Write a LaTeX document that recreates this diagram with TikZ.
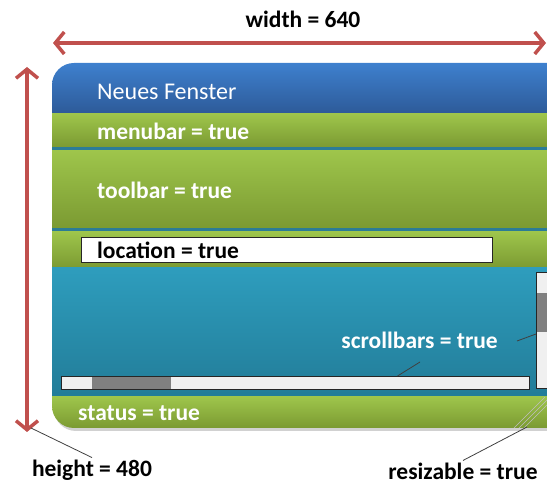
\documentclass[tikz,border=0pt]{standalone}
\usepackage{fontspec}
\setmainfont{Carlito}
\usetikzlibrary{arrows.meta,positioning}
\definecolor{dimred}{HTML}{C0504D}
\definecolor{titletop}{HTML}{3E80CE}
\definecolor{titlebot}{HTML}{2D5A98}
\definecolor{bartop}{HTML}{9EC54B}
\definecolor{barbot}{HTML}{7B9A32}
\definecolor{paneltop}{HTML}{2E9DBD}
\definecolor{panelbot}{HTML}{227C98}
\definecolor{septeal}{HTML}{2B7C96}
\definecolor{trackgray}{HTML}{F0F0F0}
\definecolor{thumbgray}{HTML}{808080}
\begin{document}
\begin{tikzpicture}
[x=1pt,y=-1pt,
  greenbar/.style={top color=bartop,bottom color=barbot},%
  optlabel/.style={anchor=west,text=white,inner sep=0pt,font=\fontsize{23.5}{27}\selectfont\bfseries},%
  dimlabel/.style={text=black,inner sep=2pt,font=\fontsize{23.5}{27}\selectfont\bfseries},%
  dimarrow/.style={draw=dimred,line width=3.5pt,{Straight Barb[length=9pt,width=22pt]}-{Straight Barb[length=9pt,width=22pt]}},%
  track/.style={draw=black!85,line width=1pt,fill=trackgray,inner sep=0pt,anchor=north west},%
  thumb/.style={fill=thumbgray,inner sep=0pt,anchor=north west},%
  pointer/.style={draw=black!75,line width=0.8pt}]
\useasboundingbox (0,0) rectangle (547,486);
%% window frame with shadow
\fill[black!18,rounded corners=22pt] (54,66) rectangle (590,431);
\begin{scope}
\clip[rounded corners=22pt] (52,63) rectangle (590,428);
\shade[top color=titletop,bottom color=titlebot] (52,63) rectangle (590,114);
\shade[greenbar] (52,114) rectangle (590,147);
\fill[septeal] (52,147) rectangle (590,151);
\shade[greenbar] (52,151) rectangle (590,228);
\fill[septeal] (52,228) rectangle (590,232);
\shade[greenbar] (52,232) rectangle (590,268);
\shade[top color=paneltop,bottom color=panelbot] (52,268) rectangle (590,397);
\shade[greenbar] (52,397) rectangle (590,428);
%% resize grip
\foreach \d in {0,5,10}
  \draw[black!25,line width=0.6pt] (514+\d,428) -- (545+\d,397);
\end{scope}
%% bar labels
\node (title) [optlabel,font=\fontsize{24}{27}\selectfont] at (97,92) {Neues Fenster};
\node (menubar) [optlabel] at (97,131) {menubar = true};
\node (toolbar) [optlabel] at (97,190) {toolbar = true};
\node (locbox) [track,fill=white,minimum width=411pt,minimum height=25pt] at (81,237) {};
\node (location) [optlabel,text=black] at (97,250) {location = true};
\node (status) [optlabel] at (78,413) {status = true};
%% scrollbars
\node (vscroll) [track,minimum width=30pt,minimum height=116pt] at (536,272) {};
\node (vthumb) [thumb,minimum width=20pt,minimum height=39pt] at (537,293) {};
\node (hscroll) [track,minimum width=468pt,minimum height=13pt] at (61,376) {};
\node (hthumb) [thumb,minimum width=79pt,minimum height=12pt] at (92,376.5) {};
\node (scrollbars) [optlabel,anchor=east] at (498,340) {scrollbars = true};
\coordinate (sbv) at (517,341);
\coordinate (sbh) at (420,362);
\draw[pointer] (sbv) -- (vscroll.west |- 0,334);
\draw[pointer] (sbh) -- ([xshift=102pt]hscroll.north);
%% dimensions
\coordinate (wleft) at (53,43);
\coordinate (wright) at (546,43);
\coordinate (htop) at (27,67);
\coordinate (hbot) at (27,432);
\draw[dimarrow] (wleft) -- (wright);
\draw[dimarrow] (htop) -- (hbot);
\node (width) [dimlabel] at (303,19) {width = 640};
\node (height) [dimlabel] at (92,470) {height = 480};
\node (resizable) [dimlabel] at (463,471) {resizable = true};
\coordinate (grip) at (527,427);
\draw[pointer] (31,428) -- (height.north);
\draw[pointer] (grip) -- (resizable.north);
\end{tikzpicture}
\end{document}
